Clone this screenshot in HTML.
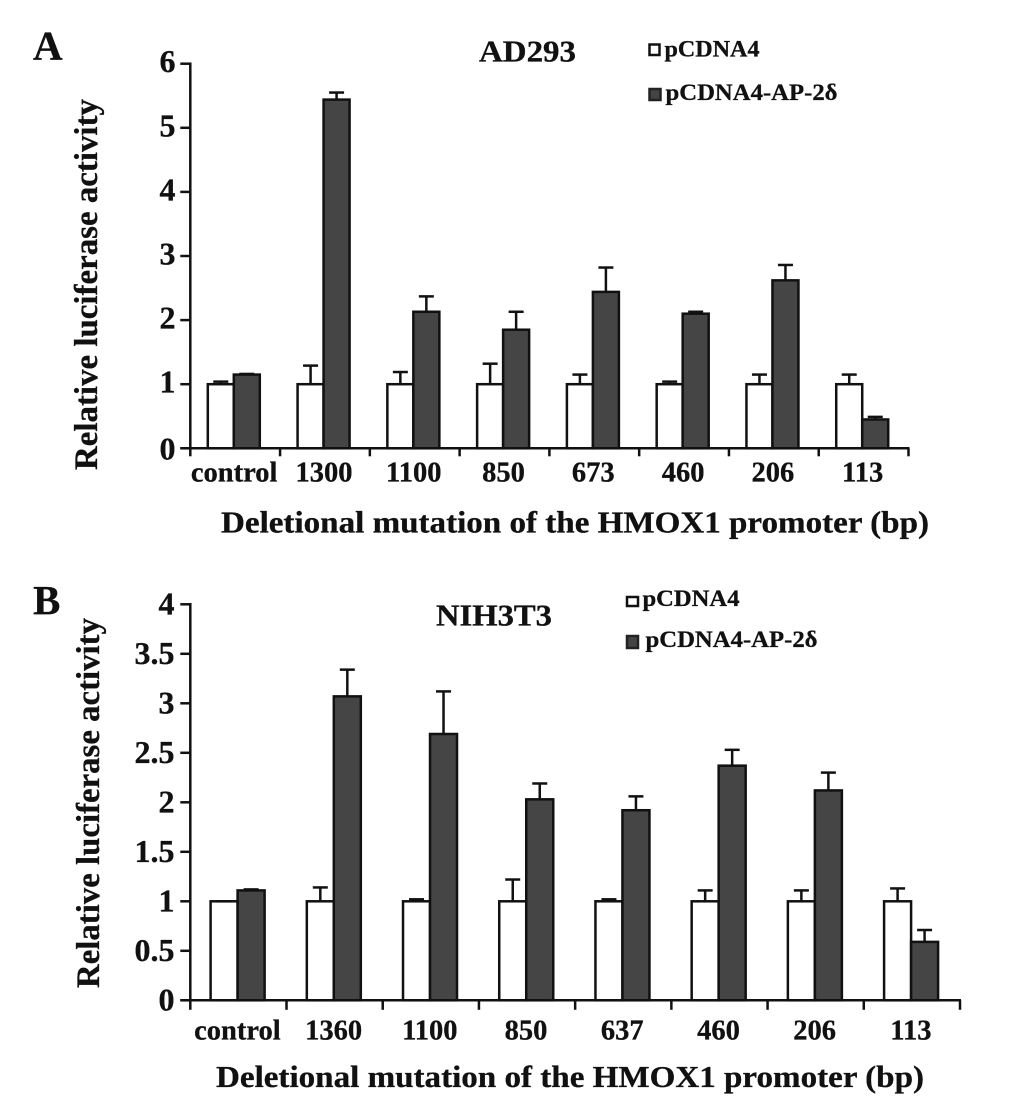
<!DOCTYPE html>
<html>
<head>
<meta charset="utf-8">
<title>Relative luciferase activity charts</title>
<style>
html,body{margin:0;padding:0;background:#fff;}
svg{display:block;}
text{font-family:"Liberation Serif",serif;font-weight:bold;fill:#111;stroke:#111;stroke-width:0.3px;}
</style>
</head>
<body>
<svg id="figure" width="1033" height="1098" viewBox="0 0 1033 1098" xmlns="http://www.w3.org/2000/svg">
  <rect x="0" y="0" width="1033" height="1098" fill="#fff"/>

  <text x="33" y="59.6" font-size="41">A</text>
  <text x="479" y="61.4" font-size="31" textLength="97" lengthAdjust="spacingAndGlyphs">AD293</text>
  <rect x="649.5" y="44.5" width="10" height="10.5" fill="#fff" stroke="#111" stroke-width="2.5"/>
  <text x="664.5" y="56.7" font-size="23.5" textLength="95" lengthAdjust="spacingAndGlyphs">pCDNA4</text>
  <rect x="649.5" y="89" width="11" height="11" fill="#444" stroke="#222" stroke-width="2.5"/>
  <text x="665.5" y="100" font-size="23.5" textLength="172" lengthAdjust="spacingAndGlyphs">pCDNA4-AP-2δ</text>
  <text transform="translate(97 470) rotate(-90)" x="0" y="0" font-size="33" textLength="371" lengthAdjust="spacingAndGlyphs">Relative luciferase activity</text>
  <text x="221" y="532.7" font-size="30.5" textLength="708" lengthAdjust="spacingAndGlyphs">Deletional mutation of the HMOX1 promoter (bp)</text>

  <text x="33" y="613.8" font-size="41">B</text>
  <text x="436" y="625.5" font-size="31" textLength="116" lengthAdjust="spacingAndGlyphs">NIH3T3</text>
  <rect x="627" y="597" width="11" height="9" fill="#fff" stroke="#111" stroke-width="2.5"/>
  <text x="642.5" y="606" font-size="23.5" textLength="97" lengthAdjust="spacingAndGlyphs">pCDNA4</text>
  <rect x="627" y="636" width="11" height="12" fill="#444" stroke="#222" stroke-width="2.5"/>
  <text x="645.5" y="646.8" font-size="23.5" textLength="172" lengthAdjust="spacingAndGlyphs">pCDNA4-AP-2δ</text>
  <text transform="translate(99 988) rotate(-90)" x="0" y="0" font-size="33" textLength="370" lengthAdjust="spacingAndGlyphs">Relative luciferase activity</text>
  <text x="216" y="1086.8" font-size="30.5" textLength="708" lengthAdjust="spacingAndGlyphs">Deletional mutation of the HMOX1 promoter (bp)</text>

  <g id="plot-a"></g>
  <g id="plot-b"></g>
</svg>
<script>
// Panel A (AD293) data
const categoriesA = ['control', '1300', '1100', '850', '673', '460', '206', '113'];
const controlValuesA = [1, 1, 1, 1, 1, 1, 1, 1];
const controlErrorsA = [0.04, 0.29, 0.19, 0.32, 0.15, 0.04, 0.15, 0.15];
const ap2dValuesA = [1.15, 5.44, 2.13, 1.85, 2.44, 2.10, 2.62, 0.45];
const ap2dErrorsA = [0.01, 0.11, 0.24, 0.28, 0.38, 0.03, 0.24, 0.04];
const yTicksA = [0, 1, 2, 3, 4, 5, 6];

// Panel B (NIH3T3) data
const categoriesB = ['control', '1360', '1100', '850', '637', '460', '206', '113'];
const controlValuesB = [1, 1, 1, 1, 1, 1, 1, 1];
const controlErrorsB = [0, 0.14, 0.02, 0.22, 0.02, 0.11, 0.11, 0.13];
const ap2dValuesB = [1.11, 3.07, 2.69, 2.03, 1.92, 2.37, 2.12, 0.59];
const ap2dErrorsB = [0.01, 0.27, 0.43, 0.16, 0.14, 0.16, 0.18, 0.12];
const yTicksB = [0, 0.5, 1, 1.5, 2, 2.5, 3, 3.5, 4];

const SVG_NS = 'http://www.w3.org/2000/svg';
const INK = '#111';
const LINE = 2.5;

function make(parent, tag, props) {
  const el = document.createElementNS(SVG_NS, tag);
  Object.keys(props).forEach(function (k) { el.setAttribute(k, props[k]); });
  parent.appendChild(el);
  return el;
}

function drawPanel(root, cfg) {
  const yMax = cfg.yTicks[cfg.yTicks.length - 1];
  const n = cfg.categories.length;
  const step = (cfg.xEnd - cfg.xStart) / n;
  const yScale = function (v) { return cfg.y0 - (v / yMax) * (cfg.y0 - cfg.yTop); };
  const xBand = function (i) { return cfg.xStart + i * step; };

  function drawBar(i, value, err, left, fill, series) {
    const x = xBand(i) + left;
    const bar = make(root, 'rect', {
      x: x, y: yScale(value), width: cfg.barWidth, height: cfg.y0 - yScale(value),
      fill: fill, stroke: INK, 'stroke-width': LINE
    });
    
    
    const cx = x + cfg.barWidth / 2;
    const topY = yScale(value + err);
    const stem = make(root, 'line', {
      x1: cx, x2: cx, y1: yScale(value), y2: topY, stroke: INK, 'stroke-width': LINE
    });
    
    
    const cap = make(root, 'line', {
      x1: cx - 7.5, x2: cx + 7.5, y1: topY, y2: topY, stroke: INK, 'stroke-width': LINE
    });
    
    
  }

  cfg.categories.forEach(function (cat, i) {
    drawBar(i, cfg.control[i], cfg.controlErr[i], cfg.barOffset, '#fff', 'pcdna4');
    drawBar(i, cfg.ap2d[i], cfg.ap2dErr[i], cfg.barOffset + cfg.barWidth, '#454545', 'ap2d');
    const label = make(root, 'text', {
      x: xBand(i) + step / 2 - 1, y: cfg.catBaseline, 'font-size': 28.5, 'text-anchor': 'middle'
    });
    
    
    label.textContent = cat;
  });

  const yAxis = make(root, 'line', {
    x1: cfg.xStart, x2: cfg.xStart, y1: cfg.yTop - 1.25, y2: cfg.y0 + 1, stroke: INK, 'stroke-width': LINE
  });
  
  
  const xAxis = make(root, 'line', {
    x1: cfg.xStart - 10, x2: cfg.xEnd + 1, y1: cfg.y0, y2: cfg.y0, stroke: INK, 'stroke-width': LINE
  });
  
  

  cfg.yTicks.forEach(function (t) {
    const y = yScale(t);
    const tick = make(root, 'line', {
      x1: cfg.xStart - 10, x2: cfg.xStart, y1: y, y2: y, stroke: INK, 'stroke-width': LINE
    });
    
    
    const label = make(root, 'text', {
      x: cfg.yLabelRight, y: y + cfg.labelDy + (t === 0 ? cfg.zeroDy : 0), 'font-size': 32, 'text-anchor': 'end'
    });
    
    
    label.textContent = String(t);
  });

  for (let i = 0; i <= n; i++) {
    const x = xBand(i);
    const tick = make(root, 'line', {
      x1: x, x2: x, y1: cfg.y0, y2: cfg.y0 + cfg.tickLen, stroke: INK, 'stroke-width': LINE
    });
    
    
  }
}

drawPanel(document.getElementById('plot-a'), {
  categories: categoriesA, control: controlValuesA, controlErr: controlErrorsA,
  ap2d: ap2dValuesA, ap2dErr: ap2dErrorsA, yTicks: yTicksA,
  xStart: 190.3, xEnd: 908.5, y0: 448.3, yTop: 63.7,
  barOffset: 17.5, barWidth: 26, catBaseline: 481.7, yLabelRight: 175.5, tickLen: 8,
  labelDy: 8.5, zeroDy: 2.5
});
drawPanel(document.getElementById('plot-b'), {
  categories: categoriesB, control: controlValuesB, controlErr: controlErrorsB,
  ap2d: ap2dValuesB, ap2dErr: ap2dErrorsB, yTicks: yTicksB,
  xStart: 190.3, xEnd: 960, y0: 1000.3, yTop: 604.3,
  barOffset: 20.3, barWidth: 27, catBaseline: 1039.3, yLabelRight: 174.5, tickLen: 9.5,
  labelDy: 10, zeroDy: 0.4
});
</script>
</body>
</html>
